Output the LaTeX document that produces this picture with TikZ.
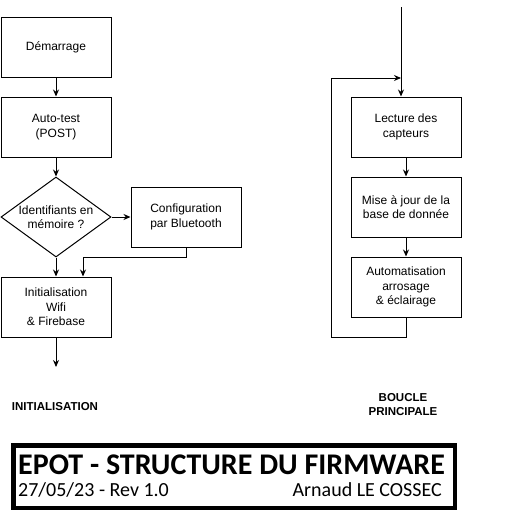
\documentclass[tikz,border=0pt]{standalone}
\usepackage{fontspec}
\setmainfont{Liberation Sans}
\newfontfamily\cartfont{Carlito}
\usetikzlibrary{arrows.meta,shapes.geometric}

\tikzset{
  bloc/.style={draw, rectangle, minimum width=110pt, minimum height=60pt,
    align=center, font=\fontsize{12}{14.5}\selectfont, line width=1pt},
  losange/.style={draw, diamond, minimum width=110pt, minimum height=80pt,
    inner sep=0pt, line width=1pt},
  fleche/.style={line width=1pt, -{Stealth[length=7pt,width=6pt]}},
  lien/.style={line width=1pt},
  titre/.style={font=\fontsize{11.5}{14}\selectfont\bfseries, align=center},
}

\begin{document}
\begin{tikzpicture}[x=1pt, y=-1pt]
  \useasboundingbox (0,0) rectangle (524,517);

  % initialisation
  \node[bloc] (demarrage) at (56,47) {Démarrage};
  \node[bloc] (autotest) at (56,127) {Auto-test\\(POST)};
  \node[losange] (identif) at (56,217) {};
  \node[align=center, font=\fontsize{12}{14.5}\selectfont] at (identif) {Identifiants en\\mémoire ?};
  \node[bloc] (config) at (186,217) {Configuration\\par Bluetooth};
  \node[bloc] (initwifi) at (56,307) {Initialisation\\Wifi\\\& Firebase};
  \coordinate (suite) at (56,367);

  \draw[fleche] (demarrage) -- (autotest);
  \draw[fleche] (autotest) -- (identif);
  \draw[fleche] (identif) -- (config);
  \draw[fleche] (identif) -- (initwifi);
  \draw[fleche] (config.south) -- ++(0,10) -| ([xshift=27pt]initwifi.north);
  \draw[fleche] (initwifi) -- (suite);

  % boucle principale
  \node[bloc] (lecture) at (406,127) {Lecture des\\capteurs};
  \node[bloc] (majbdd) at (406,207) {Mise à jour de la\\base de donnée};
  \node[bloc] (automat) at (406,287) {Automatisation\\arrosage\\\& éclairage};
  \coordinate (entree) at (401,7);
  \coordinate (jonction) at (401,78);
  \coordinate (boucle) at (331,337);

  \draw[fleche] (entree) -- (entree |- lecture.north);
  \draw[fleche] (lecture) -- (majbdd);
  \draw[fleche] (majbdd) -- (automat);
  \draw[fleche] (automat.south) |- (boucle) |- (jonction);

  \node[titre] (initlabel) at (55,407) {INITIALISATION};
  \node[titre] (bouclelabel) at (403,405) {BOUCLE\\PRINCIPALE};

  % cartouche
  \node[draw, line width=4.5pt, minimum width=441.5pt, minimum height=62.5pt,
    inner sep=0pt] (cartouche) at (234.25,476.75) {};
  \node[anchor=base west, inner sep=0pt, font=\cartfont\bfseries\fontsize{30}{30}\selectfont]
    (nomprojet) at (18,474) {EPOT - STRUCTURE DU FIRMWARE};
  \node[anchor=base west, inner sep=0pt, font=\cartfont\fontsize{20}{20}\selectfont]
    (revision) at (18,496) {27/05/23 - Rev 1.0};
  \node[anchor=base east, inner sep=0pt, font=\cartfont\fontsize{20}{20}\selectfont]
    (auteur) at (442,496) {Arnaud LE COSSEC};
\end{tikzpicture}
\end{document}
